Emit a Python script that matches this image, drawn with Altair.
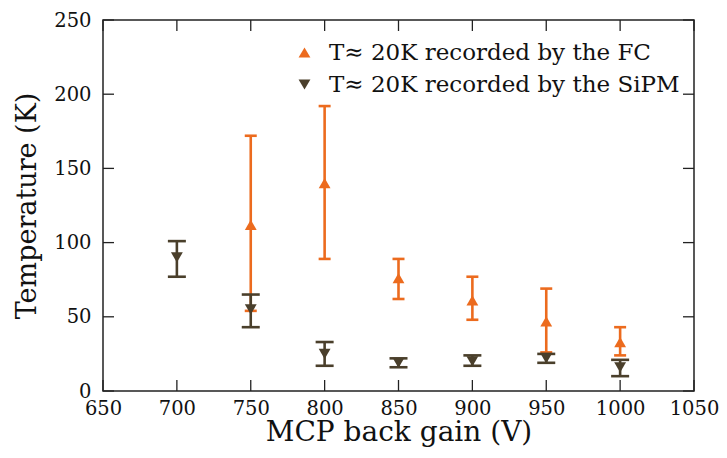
import altair as alt
import pandas as pd

# ---- data ----
fc_label = "T\u2248 20K recorded by the FC"
sipm_label = "T\u2248 20K recorded by the SiPM"

fc_x = [750, 800, 850, 900, 950, 1000]
fc_y = [112, 140, 76, 61, 47, 33]
fc_lo = [54, 89, 62, 48, 26, 24]
fc_hi = [172, 192, 89, 77, 69, 43]

sipm_x = [700, 750, 800, 850, 900, 950, 1000]
sipm_y = [90, 55, 25, 19, 20, 22, 16]
sipm_lo = [77, 43, 17, 16, 17, 19, 10]
sipm_hi = [101, 65, 33, 22, 24, 25, 21]

x_ticks = [650, 700, 750, 800, 850, 900, 950, 1000, 1050]
y_ticks = [0, 50, 100, 150, 200, 250]

ORANGE = "#EC6B1E"
DARK = "#4A3F2B"
FONT = "'DejaVu Serif', serif"
W, H = 591, 371

fc = pd.DataFrame({"x": fc_x, "y": fc_y, "lo": fc_lo, "hi": fc_hi, "series": fc_label})
sipm = pd.DataFrame({"x": sipm_x, "y": sipm_y, "lo": sipm_lo, "hi": sipm_hi, "series": sipm_label})
pts_df = pd.concat([fc, sipm], ignore_index=True)
xt = pd.DataFrame({"v": x_ticks})
yt = pd.DataFrame({"v": y_ticks})

xscale = alt.Scale(domain=[650, 1050], nice=False, zero=False)
yscale = alt.Scale(domain=[0, 250], nice=False, zero=False)

X = alt.X("x:Q", scale=xscale, axis=alt.Axis(
    values=x_ticks, format="d", title="MCP back gain (V)", grid=False, ticks=False, domain=False,
    labelFlush=False, labelOverlap=False,
    labelFont=FONT, labelFontSize=19.5, labelPadding=8, labelColor="#111",
    titleFont=FONT, titleFontSize=28, titleFontWeight="normal", titlePadding=1, titleColor="#111"))
Y = alt.Y("y:Q", scale=yscale, axis=alt.Axis(
    values=y_ticks, format="d", title="Temperature (K)", grid=False, ticks=False, domain=False,
    labelFlush=False, labelOverlap=False,
    labelFont=FONT, labelFontSize=19.5, labelPadding=12, labelColor="#111",
    titleFont=FONT, titleFontSize=27, titleFontWeight="normal", titlePadding=12, titleColor="#111"))

leg = alt.Legend(title=None, orient="none", legendX=190, legendY=21,
                 labelFont=FONT, labelFontSize=23, labelColor="#111", labelLimit=500,
                 labelOffset=13, rowPadding=8, symbolSize=140,
                 symbolStrokeWidth=0, padding=0)
color = alt.Color("series:N", scale=alt.Scale(domain=[fc_label, sipm_label], range=[ORANGE, DARK]),
                  legend=leg)
shape = alt.Shape("series:N", scale=alt.Scale(domain=[fc_label, sipm_label],
                                              range=["triangle-up", "triangle-down"]),
                  legend=leg)


def bar_layers(df, col, capw):
    base = alt.Chart(df)
    bar = base.mark_rule(strokeWidth=2.6, color=col).encode(
        x=X, y=alt.Y("lo:Q", scale=yscale), y2="hi:Q")
    cap1 = base.mark_tick(orient="horizontal", size=capw, thickness=2.6, color=col, opacity=1).encode(
        x=X, y=alt.Y("lo:Q", scale=yscale))
    cap2 = base.mark_tick(orient="horizontal", size=capw, thickness=2.6, color=col, opacity=1).encode(
        x=X, y=alt.Y("hi:Q", scale=yscale))
    return [bar, cap1, cap2]


points = alt.Chart(pts_df).mark_point(filled=True, size=140, opacity=1).encode(
    x=X, y=Y, color=color, shape=shape,
    order=alt.Order("series:N"))

TICK = 11
tk = dict(color="#222", strokeWidth=1.3)
bottom_ticks = alt.Chart(xt).mark_rule(**tk).encode(
    x=alt.X("v:Q", scale=xscale), y=alt.value(H), y2=alt.value(H - TICK))
top_ticks = alt.Chart(xt).mark_rule(**tk).encode(
    x=alt.X("v:Q", scale=xscale), y=alt.value(0), y2=alt.value(TICK))
left_ticks = alt.Chart(yt).mark_rule(**tk).encode(
    y=alt.Y("v:Q", scale=yscale), x=alt.value(0), x2=alt.value(TICK))
right_ticks = alt.Chart(yt).mark_rule(**tk).encode(
    y=alt.Y("v:Q", scale=yscale), x=alt.value(W), x2=alt.value(W - TICK))

chart = alt.layer(
    bottom_ticks, top_ticks, left_ticks, right_ticks,
    *bar_layers(fc, ORANGE, 12),
    *bar_layers(sipm, DARK, 18),
    points,
).properties(
    width=W, height=H,
    autosize=alt.AutoSizeParams(type="none"),
    padding={"left": 95, "top": 12, "right": 25, "bottom": 64},
    background="white",
).configure_view(stroke="#222", strokeWidth=1.5)

chart.save("out.html", embed_options={"renderer": "svg", "actions": False})
